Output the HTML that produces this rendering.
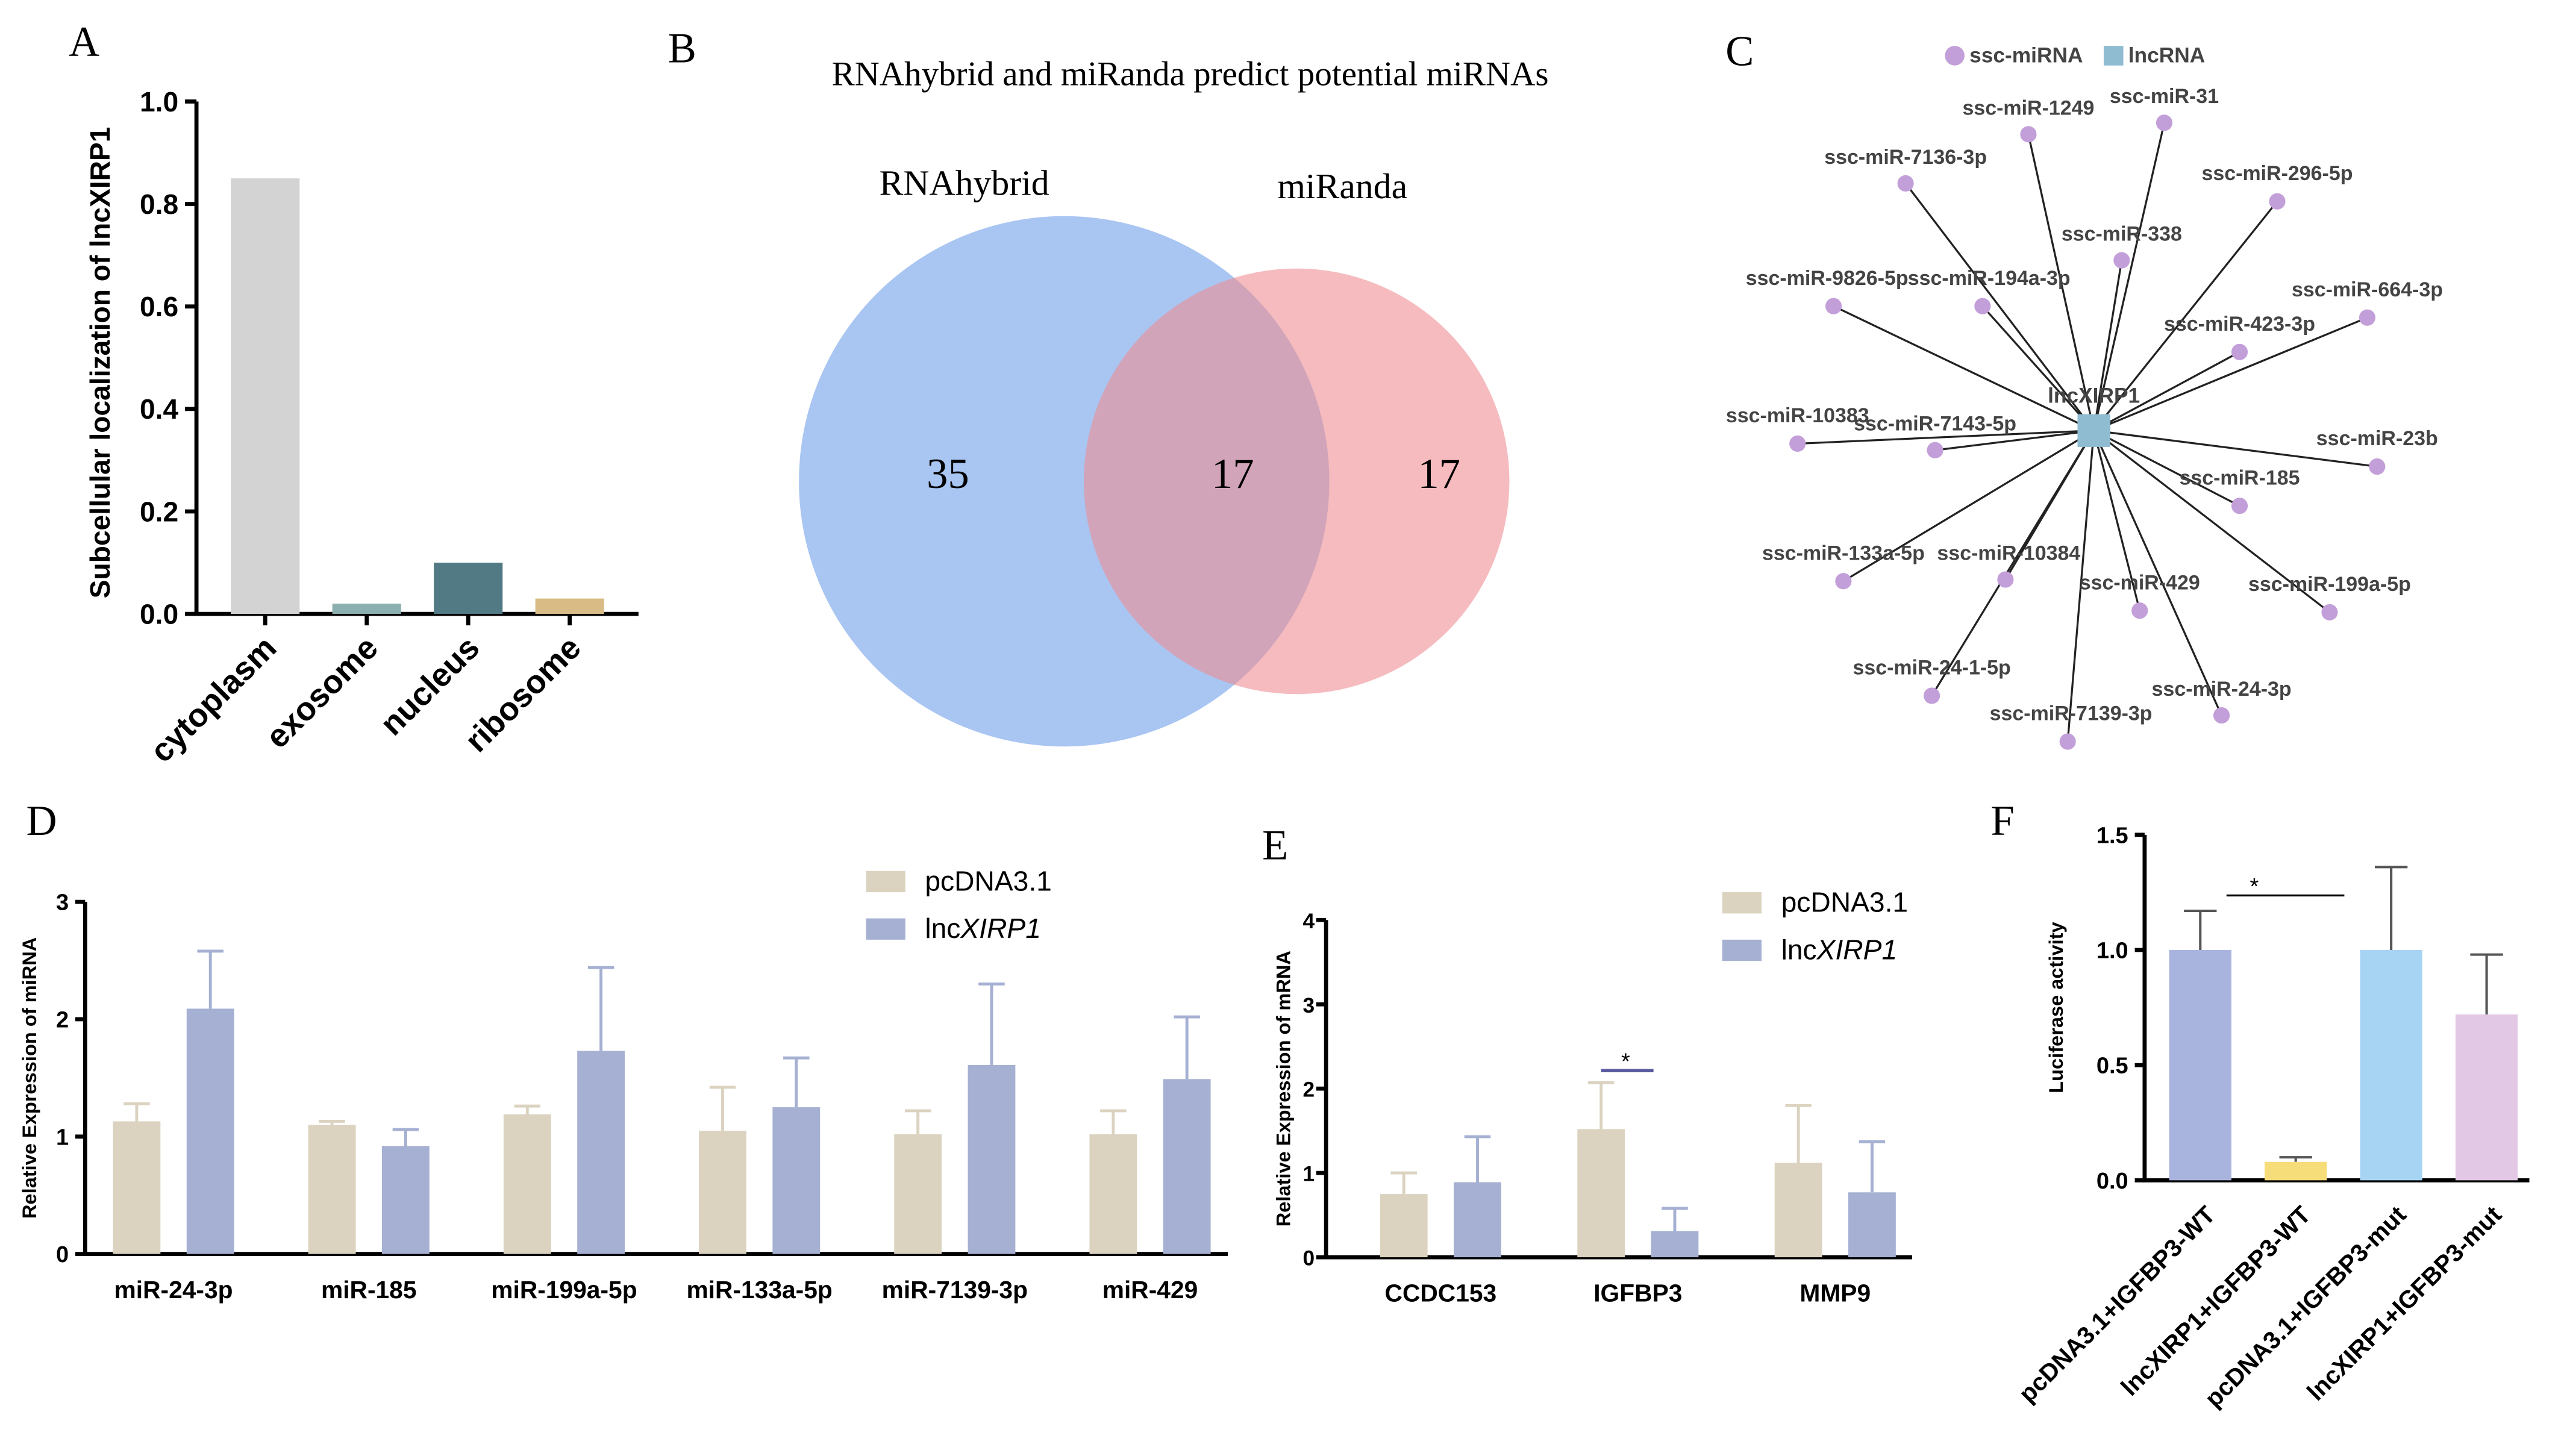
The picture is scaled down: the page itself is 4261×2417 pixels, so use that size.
<!DOCTYPE html>
<html><head><meta charset="utf-8"><style>
html,body{margin:0;padding:0;background:#fff}
svg{display:block}
text{font-family:"Liberation Sans",Arial,sans-serif}
.serif{font-family:"Liberation Serif","Times New Roman",serif}
</style></head><body>
<svg id="s" width="4261" height="2417" viewBox="0 0 1568 889.4" xmlns="http://www.w3.org/2000/svg">
<g id="pa"></g>
<g id="pb"></g>
<g id="pc"></g>
<g id="pd"></g>
<g id="pe"></g>
<g id="pf"></g>
</svg>
<script>
// Panel A data
const aCats=["cytoplasm","exosome","nucleus","ribosome"];
const aVals=[0.85,0.02,0.10,0.03];
const aTicks=["0.0","0.2","0.4","0.6","0.8","1.0"];
// Panel B data
const vennCounts=[35,17,17];
// Panel D data
const dCats=["miR-24-3p","miR-185","miR-199a-5p","miR-133a-5p","miR-7139-3p","miR-429"];
const dPc=[1.13,1.10,1.19,1.05,1.02,1.02];
const dPcErr=[0.15,0.03,0.07,0.37,0.20,0.20];
const dLnc=[2.09,0.92,1.73,1.25,1.61,1.49];
const dLncErr=[0.49,0.14,0.71,0.42,0.69,0.53];
const dTicks=[0,1,2,3];
// Panel E data
const eCats=["CCDC153","IGFBP3","MMP9"];
const ePc=[0.75,1.52,1.12];
const ePcErr=[0.25,0.55,0.68];
const eLnc=[0.89,0.31,0.77];
const eLncErr=[0.54,0.27,0.60];
const eTicks=[0,1,2,3,4];
// Panel F data
const fCats=["pcDNA3.1+IGFBP3-WT","lncXIRP1+IGFBP3-WT","pcDNA3.1+IGFBP3-mut","lncXIRP1+IGFBP3-mut"];
const fVals=[1.0,0.08,1.0,0.72];
const fErr=[0.17,0.02,0.36,0.26];
const fTicks=["0.0","0.5","1.0","1.5"];
// Panel C data
const netNodes=[["ssc-miR-1249",1239,82],["ssc-miR-31",1322,75],["ssc-miR-7136-3p",1164,112],["ssc-miR-296-5p",1391,123],["ssc-miR-338",1296,159],["ssc-miR-9826-5p",1120,187],["ssc-miR-194a-3p",1211,187],["ssc-miR-664-3p",1446,194],["ssc-miR-423-3p",1368,215],["ssc-miR-10383",1098,271],["ssc-miR-7143-5p",1182,275],["ssc-miR-23b",1452,285],["ssc-miR-185",1368,309],["ssc-miR-133a-5p",1126,355],["ssc-miR-10384",1225,354],["ssc-miR-429",1307,373],["ssc-miR-199a-5p",1423,374],["ssc-miR-24-1-5p",1180,425],["ssc-miR-24-3p",1357,437],["ssc-miR-7139-3p",1263,453]];
const netLabelPos=[[1239,70],[1322,63],[1164,100],[1391,110],[1296,147],[1116,174],[1215,174],[1446,181],[1368,202],[1098,258],[1182,263],[1452,272],[1368,296],[1126,342],[1227,342],[1307,360],[1423,361],[1180,412],[1357,425],[1265,440]];

const NS="http://www.w3.org/2000/svg";
function mk(p,tag,at,txt){const e=document.createElementNS(NS,tag);for(const k in at)e.setAttribute(k,at[k]);if(txt!==undefined)e.textContent=txt;p.appendChild(e);return e;}

// ---------- Panel A
(function(){
const g=document.getElementById('pa');
const x0=120,y0=375,yTop=62,ys=v=>y0-(y0-yTop)*v;
let t=mk(g,'text',{x:42,y:34,'font-size':26,class:'serif'},'A');

const ax=mk(g,'path',{d:`M${x0},${yTop} V${y0} H390`,stroke:'#000','stroke-width':2.5,fill:'none'});

aTicks.forEach((l,i)=>{const y=ys(+l);mk(g,'line',{x1:x0-7,x2:x0,y1:y,y2:y,stroke:'#000','stroke-width':2.5});
const tl=mk(g,'text',{x:x0-11,y:y+6,'font-size':17,'font-weight':'bold','text-anchor':'end'},l);
});
const yt=mk(g,'text',{transform:`translate(67,${(y0+yTop)/2+3}) rotate(-90)`,'font-size':17,'font-weight':'bold','text-anchor':'middle'},'Subcellular localization of lncXIRP1');

const cols=['#d3d3d3','#8cb0b0','#527a85','#d9bc85'];
aCats.forEach((c,i)=>{const cx=162+i*62;
const b=mk(g,'rect',{x:cx-21,y:ys(aVals[i]),width:42,height:y0-ys(aVals[i]),fill:cols[i]});

mk(g,'line',{x1:cx,x2:cx,y1:y0,y2:y0+7,stroke:'#000','stroke-width':2.5});
const l=mk(g,'text',{transform:`translate(${cx+8},${y0+22}) rotate(-45)`,'font-size':20,'font-weight':'bold','text-anchor':'end'},c);
});
})();

// ---------- Panel B
(function(){
const g=document.getElementById('pb');
let t=mk(g,'text',{x:408,y:38,'font-size':26,class:'serif'},'B');
t=mk(g,'text',{x:727,y:52,'font-size':21,class:'serif','text-anchor':'middle'},'RNAhybrid and miRanda predict potential miRNAs');
let c=mk(g,'circle',{cx:650,cy:294,r:162,fill:'#a9c5f2'});
c=mk(g,'circle',{cx:792,cy:294,r:130,fill:'#ef8e92','fill-opacity':0.6});
t=mk(g,'text',{x:589,y:119,'font-size':22,class:'serif','text-anchor':'middle'},'RNAhybrid');
t=mk(g,'text',{x:820,y:121,'font-size':22,class:'serif','text-anchor':'middle'},'miRanda');
[[579,vennCounts[0]],[753,vennCounts[1]],[879,vennCounts[2]]].forEach(([x,v],i)=>{const tt=mk(g,'text',{x:x,y:298,'font-size':26,class:'serif','text-anchor':'middle'},String(v));
});
})();

// ---------- Panel C
(function(){
const g=document.getElementById('pc');
let t=mk(g,'text',{x:1054,y:40,'font-size':26,class:'serif'},'C');
const cx=1279,cy=263;
netNodes.forEach(n=>{mk(g,'line',{x1:cx,y1:cy,x2:n[1],y2:n[2],stroke:'#222','stroke-width':1.2});});
netNodes.forEach((n,i)=>{const d=mk(g,'circle',{cx:n[1],cy:n[2],r:5,fill:'#c39fd9'});
const l=mk(g,'text',{x:netLabelPos[i][0],y:netLabelPos[i][1],'font-size':12.5,'font-weight':'bold',fill:'#444','text-anchor':'middle'},n[0]);});
const hub=mk(g,'rect',{x:cx-10,y:cy-10,width:20,height:20,fill:'#8fbcd0'});
t=mk(g,'text',{x:cx,y:246,'font-size':13,'font-weight':'bold',fill:'#444','text-anchor':'middle'},'lncXIRP1');
let lg=mk(g,'circle',{cx:1194,cy:34,r:6,fill:'#c39fd9'});
t=mk(g,'text',{x:1203,y:38,'font-size':13,'font-weight':'bold',fill:'#444'},'ssc-miRNA');
lg=mk(g,'rect',{x:1285,y:28,width:12,height:12,fill:'#8fbcd0'});
t=mk(g,'text',{x:1300,y:38,'font-size':13,'font-weight':'bold',fill:'#444'},'lncRNA');
})();

// ---------- generic grouped bars
function grouped(g,o){
const ys=v=>o.y0-v*o.unit;
mk(g,'path',{d:`M${o.x0},${ys(o.ticks[o.ticks.length-1])} V${o.y0} H${o.x1}`,stroke:'#000','stroke-width':2.5,fill:'none'});
o.ticks.forEach(v=>{const y=ys(v);mk(g,'line',{x1:o.x0-6,x2:o.x0,y1:y,y2:y,stroke:'#000','stroke-width':2.5});
const l=mk(g,'text',{x:o.x0-o.tOff,y:y+5,'font-size':o.tfs,'font-weight':'bold','text-anchor':'end'},String(v));});
o.cats.forEach((c,i)=>{const cx=o.c0+i*o.step;
[[o.pc,o.pcE,'#dbd3c0',-1],[o.lnc,o.lncE,'#a5b0d2',1]].forEach(([vals,err,col,s])=>{
const bx=s<0?cx-o.gap-o.bw:cx+o.gap;const y=ys(vals[i]);
mk(g,'line',{x1:bx+o.bw/2,x2:bx+o.bw/2,y1:y,y2:ys(vals[i]+err[i]),stroke:col,'stroke-width':1.8});
mk(g,'line',{x1:bx+o.bw/2-8,x2:bx+o.bw/2+8,y1:ys(vals[i]+err[i]),y2:ys(vals[i]+err[i]),stroke:col,'stroke-width':1.8});
const b=mk(g,'rect',{x:bx,y:y,width:o.bw,height:o.y0-y,fill:col});});
const l=mk(g,'text',{x:cx,y:o.y0+27,'font-size':15,'font-weight':'bold','text-anchor':'middle'},c);});
const yt=mk(g,'text',{transform:`translate(${o.ytx},${o.y0-o.ticks[o.ticks.length-1]*o.unit/2}) rotate(-90)`,'font-size':12,'font-weight':'bold','text-anchor':'middle'},o.ytitle);
[['#dbd3c0','pcDNA3.1',0],['#a5b0d2','lnc',1]].forEach(([col,lab,k])=>{const y=o.ly+k*29;
const r=mk(g,'rect',{x:o.lx,y:y-12,width:24,height:13,fill:col});
const t=mk(g,'text',{x:o.lx+36,y:y,'font-size':17},lab);
if(k)mk(t,'tspan',{'font-style':'italic'},'XIRP1');});
}
(function(){const g=document.getElementById('pd');
let t=mk(g,'text',{x:16,y:510,'font-size':26,class:'serif'},'D');
grouped(g,{x0:52,x1:750,y0:766,unit:71.7,ticks:dTicks,cats:dCats,pc:dPc,pcE:dPcErr,lnc:dLnc,lncE:dLncErr,c0:106,step:119.3,bw:29,gap:8,ytx:22,tOff:10,tfs:14,ytitle:'Relative Expression of miRNA',lx:529,ly:544});})();
(function(){const g=document.getElementById('pe');
let t=mk(g,'text',{x:771,y:525,'font-size':26,class:'serif'},'E');
grouped(g,{x0:810,x1:1168,y0:768,unit:51.5,ticks:eTicks,cats:eCats,pc:ePc,pcE:ePcErr,lnc:eLnc,lncE:eLncErr,c0:880,step:120.5,bw:29,gap:8,ytx:788,tOff:7,tfs:13,ytitle:'Relative Expression of mRNA',lx:1052,ly:557});
mk(g,'line',{x1:978,x2:1010,y1:654,y2:654,stroke:'#5a5aa0','stroke-width':2});
t=mk(g,'text',{x:993,y:653,'font-size':14,'text-anchor':'middle'},'*');})();

// ---------- Panel F
(function(){const g=document.getElementById('pf');
let t=mk(g,'text',{x:1216,y:510,'font-size':26,class:'serif'},'F');
const x0=1310,y0=721,u=140.7,ys=v=>y0-v*u;
mk(g,'path',{d:`M${x0},${ys(1.5)} V${y0} H1545`,stroke:'#000','stroke-width':2.5,fill:'none'});
fTicks.forEach(l=>{const y=ys(+l);mk(g,'line',{x1:x0-6,x2:x0,y1:y,y2:y,stroke:'#000','stroke-width':2.5});
const tl=mk(g,'text',{x:x0-10,y:y+5,'font-size':14,'font-weight':'bold','text-anchor':'end'},l);});
const yt=mk(g,'text',{transform:`translate(1260,${ys(0.75)}) rotate(-90)`,'font-size':12,'font-weight':'bold','text-anchor':'middle'},'Luciferase activity');
const cols=['#a9b4de','#f7dc7a','#a8d4f4','#e3c8e6'];
fCats.forEach((c,i)=>{const cx=1344+i*58.3;const y=ys(fVals[i]),ye=ys(fVals[i]+fErr[i]);
mk(g,'line',{x1:cx,x2:cx,y1:y,y2:ye,stroke:'#555','stroke-width':1.5});mk(g,'line',{x1:cx-10,x2:cx+10,y1:ye,y2:ye,stroke:'#555','stroke-width':1.5});
const b=mk(g,'rect',{x:cx-19,y:y,width:38,height:y0-y,fill:cols[i]});
const l=mk(g,'text',{transform:`translate(${cx+10},${y0+22}) rotate(-45)`,'font-size':15,'font-weight':'bold','text-anchor':'end'},c);});
mk(g,'line',{x1:1360,x2:1432,y1:547,y2:547,stroke:'#000','stroke-width':1.2});
t=mk(g,'text',{x:1377,y:546,'font-size':14,'text-anchor':'middle'},'*');})();
</script>
</body></html>
